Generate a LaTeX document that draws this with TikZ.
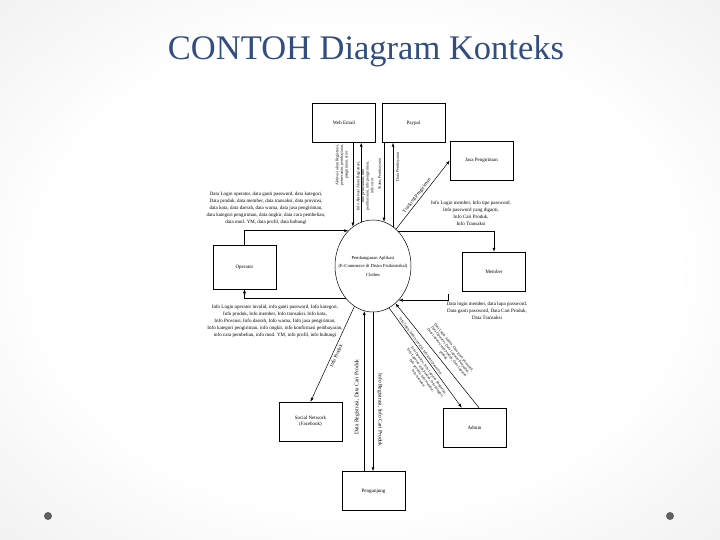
\documentclass[tikz,border=0pt]{standalone}
\usepackage{fontspec}
\setmainfont{Liberation Serif}
\usetikzlibrary{positioning,arrows.meta,calc,shapes.geometric}
\definecolor{biru}{RGB}{50,78,128}
\pgfdeclareradialshading{latar}{\pgfpoint{0bp}{0bp}}{color(0bp)=(white); color(22bp)=(white); color(50bp)=(black!11); color(72bp)=(black!22)}
\tikzset{
  ent/.style={draw, fill=white, line width=0.5pt, minimum width=63pt, minimum height=39pt, inner sep=1pt, font=\fontsize{5}{6}\selectfont, align=center},
  proc/.style={draw, ellipse, fill=white, line width=0.5pt, minimum width=76pt, minimum height=92pt, inner sep=0pt},
  fl/.style={-{Latex[length=4pt,width=3pt]}, line width=0.5pt},
  lb/.style={font=\fontsize{5}{7}\selectfont, align=center, inner sep=0pt},
  lbs/.style={font=\fontsize{4}{4.6}\selectfont, align=center, inner sep=0pt},
  lbt/.style={font=\fontsize{3.7}{4.3}\selectfont, align=center, inner sep=0pt},
}
\begin{document}
\begin{tikzpicture}[x=1pt, y=-1pt, node distance=6pt]
\useasboundingbox (0,0) rectangle (720,540);
\shade[shading=latar] (0,0) rectangle (720,540);
\fill[black!62] (48,516) circle (4pt);
\fill[black!62] (670,516) circle (4pt);
\node[font=\fontsize{34.5}{40}\selectfont, text=biru, anchor=base, inner sep=0pt] (tt) at (366,60) {CONTOH Diagram Konteks};

% proses utama
\node[proc] (C) at (373,266) {};
\node[font=\fontsize{4.6}{8.5}\selectfont, align=center] (Ct) at (C) {Pembangunan Aplikasi\\(E-Commerce di Distro Fisikmisikal)\\Clothes};

% entitas luar
\node[ent] (we) at (344,123) {Web Email};
\node[ent, right=6pt of we] (pp) {Paypal};
\node[ent] (js) at (481.5,160.5) {Jasa Pengiriman};
\node[ent, minimum height=44pt] (op) at (244.5,267) {Operator};
\node[ent] (mb) at (494,271.5) {Member};
\node[ent] (sn) at (310.5,421.5) {Social Network\\(Facebook)};
\node[ent] (ad) at (474.5,427.5) {Admin};
\node[ent] (pg) at (373.5,491) {Pengunjung};

% operator
\draw[fl] (op.north) |- (C.125);
\draw[fl] (C.230) -| (op.south);
\node[lb] (opin) at (266,208.5) {Data Login operator, data ganti password, data kategori,\\ Data produk, data member, data transaksi, data provinsi,\\ data kota, data daerah, data warna, data jasa pengiriman,\\ data kategori pengiriman, data ongkir, data cara pembelian,\\ data mod. YM, data profil, data hubungi};
\node[lb] (opout) at (275,321) {Info Login operator invalid, info ganti password, Info kategori,\\ Info produk, Info member, Info transaksi, Info kota,\\ Info Provinsi, Info daerah, Info warna, Info jasa pengiriman,\\ Info kategori pengiriman, info ongkir, info konfirmasi pembayaran,\\ info cara pembelian, info mod. YM, info profil, info hubungi};

% member
\draw[fl] (C.54) -| (mb.north);
\coordinate (mk) at (448,294);
\draw[fl] (mk) |- (C.-53);
\node[lb] (mbin) at (471,213) {Info Login member, Info tipe password,\\ Info password yang diganti,\\ Info Cari Produk,\\ Info Transaksi};
\node[lb] (mbout) at (487,311) {Data login member, data lupa password,\\ Data ganti password, Data Cari Produk,\\ Data Transaksi};

% web email dan paypal
\draw[fl] (C.117 |- we.south) -- (C.117);
\draw[fl] (C.105) -- (C.105 |- we.south);
\draw[fl] (C.76 |- pp.south) -- (C.76);
\draw[fl] (C.63) -- (C.63 |- pp.south);
\node[lbs, rotate=90] (wein) at (342,165) {Aktivasi akun Registrasi,\\ pemesanan, pembayaran,\\ pengiriman, error};
\node[lbs, rotate=90] (weout) at (365,186) {Info Aktivasi Akun Registrasi,\\ info pemesanan, info\\ pembayaran, info pengiriman,\\ info error};
\node[lbs, rotate=90] (ppin) at (380,174) {Status Pembayaran};
\node[lbs, rotate=90] (ppout) at (398,167) {Data Pembayaran};

% jasa pengiriman
\draw[fl] (C.58) -- node[lb, sloped, above=1.5pt, pos=0.45] (tp) {Tracking Pengiriman} (js.west);

% social network
\draw[fl] (C) -- node[lb, sloped, below=2pt, pos=0.5] (ip) {Info Produk} (sn.north);

% pengunjung
\draw[fl] (C.259 |- pg.north) -- (C.259);
\draw[fl] (C.270) -- (C.270 |- pg.north);
\node[lb, font=\fontsize{5.5}{7}\selectfont, rotate=90] (pgin) at (357,397) {Data Registrasi, Data Cari Produk};
\node[lb, font=\fontsize{5.5}{7}\selectfont, rotate=-90] (pgout) at (380,410) {Info Registrasi, Info Cari Produk};

% admin
\draw[fl] (C.-69) -- node[lbt, sloped, above=0.8pt, pos=0.4] (adb) {Info Login Admin invalid, Info ganti password}
  node[lbt, sloped, below=3pt, pos=0.6] (adc) {Info Operator, Info Laporan Penjualan,\\ Info Laporan stok produk, Info kategori,\\ Info produk, Info member,\\ Info transaksi}
  ($(ad.north west)!0.3!(ad.north east)$);
\draw[fl] ($(ad.north west)!0.57!(ad.north east)$) -- node[lbt, sloped, above=3pt, pos=0.47] (ada) {Data Login Admin, Data ganti password,\\ Data Operator, Data Laporan Penjualan,\\ Data Laporan stok produk, Data Laporan\\ produk} (C.-59);
\end{tikzpicture}
\end{document}
